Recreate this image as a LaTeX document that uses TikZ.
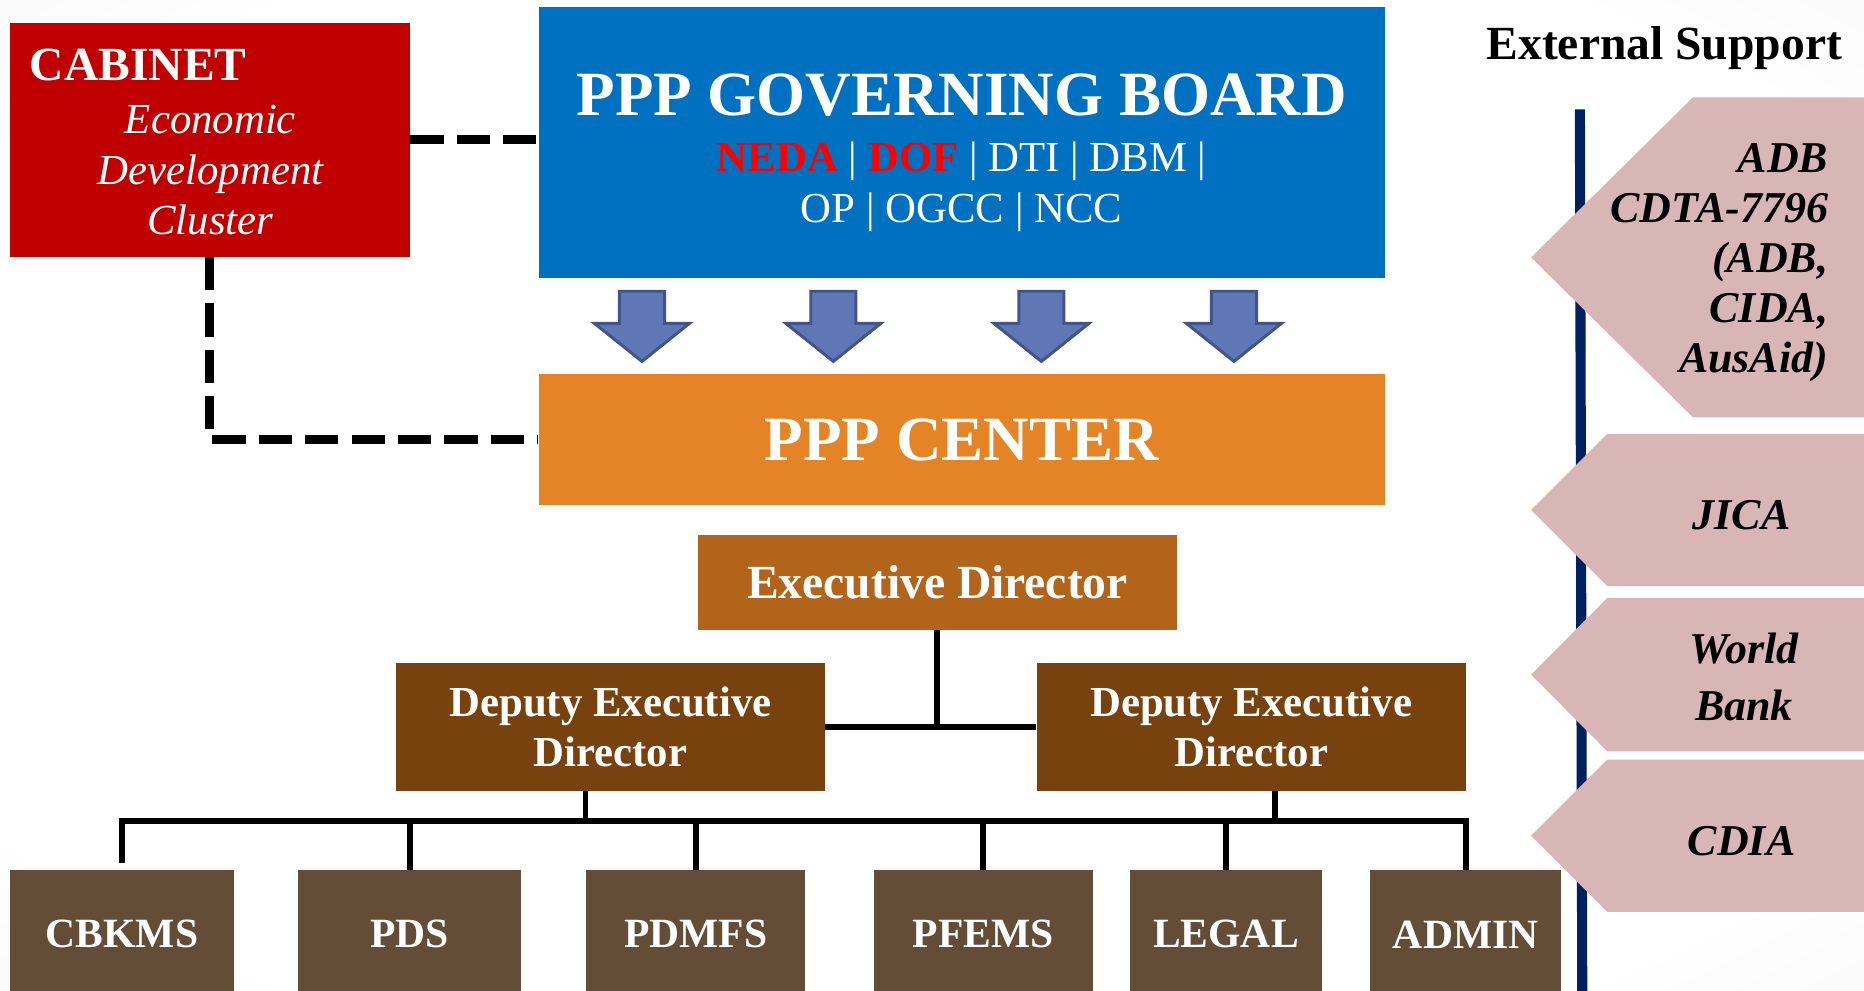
\documentclass[tikz,border=0pt]{standalone}
\usepackage{fontspec}
\setmainfont{Liberation Serif}
\usetikzlibrary{calc}
\definecolor{cabred}{HTML}{C00000}
\definecolor{boardblue}{HTML}{0070C0}
\definecolor{nedared}{HTML}{FF0000}
\definecolor{centerorange}{HTML}{E48426}
\definecolor{edbrown}{HTML}{B1641A}
\definecolor{depbrown}{HTML}{78420F}
\definecolor{unitbrown}{HTML}{634D36}
\definecolor{supportpink}{HTML}{D9B6B6}
\definecolor{navyline}{HTML}{002060}
\definecolor{arrowfill}{HTML}{6077B6}
\definecolor{arrowedge}{HTML}{41558A}
\definecolor{bgmid}{HTML}{EEEEEE}
\definecolor{bgedge}{HTML}{E0E0E0}
\pgfdeclareradialshading{bgshade}{\pgfpoint{0bp}{0bp}}{color(0bp)=(white); color(30bp)=(white); color(50bp)=(bgmid); color(71bp)=(bgedge)}
\newcommand{\fs}[1]{\fontsize{#1}{#1}\selectfont}
\begin{document}
\begin{tikzpicture}[x=1pt,y=-1pt,
  box/.style={rectangle, inner sep=0pt, text=white, font=\bfseries},
  unitbox/.style={box, fill=unitbrown, minimum height=108, font=\bfseries\fs{35}},
  depbox/.style={box, fill=depbrown, minimum width=361, minimum height=107, align=center, font=\bfseries\fontsize{36}{42}\selectfont},
  conn/.style={line width=5pt},
  dashline/.style={line width=7.5pt, dash pattern=on 28pt off 11pt},
  downarrow/.style={fill=arrowfill, draw=arrowedge, line width=2.5pt, line join=miter},
  supportshape/.style={fill=supportpink},
  supporttext/.style={inner sep=0pt, text=black, font=\bfseries\itshape\fs{37}},
  whitetext/.style={inner sep=0pt, text=white}
]
\useasboundingbox (0,0) rectangle (1568,833);
\clip (0,0) rectangle (1568,833);
% background
\shade[shading=bgshade] (0,0) rectangle (1568,833);

% external support line and shapes
\draw[line width=8.5pt, navyline] (1329,92) -- (1331,840);
\fill[supportshape] (1288,216.5) -- (1424,82) -- (1580,82) -- (1580,351) -- (1424,351) -- cycle;
\fill[supportshape] (1288,429) -- (1352,365) -- (1580,365) -- (1580,493) -- (1352,493) -- cycle;
\fill[supportshape] (1288,567.5) -- (1352,503) -- (1580,503) -- (1580,632) -- (1352,632) -- cycle;
\fill[supportshape] (1288,703) -- (1352,639) -- (1580,639) -- (1580,767) -- (1352,767) -- cycle;
\node[anchor=base, inner sep=0pt, font=\bfseries\fs{40}] (ext) at (1400,50) {External Support};
\node[supporttext, anchor=base east] (adb1) at (1538,145) {ADB};
\node[supporttext, anchor=base east] (adb2) at (1538,187) {CDTA-7796};
\node[supporttext, anchor=base east] (adb3) at (1538,229) {(ADB,};
\node[supporttext, anchor=base east] (adb4) at (1538,271) {CIDA,};
\node[supporttext, anchor=base east] (adb5) at (1538,313) {AusAid)};
\node[supporttext, anchor=base] (jica) at (1465,445) {JICA};
\node[supporttext, anchor=base] (wb1) at (1467,558) {World};
\node[supporttext, anchor=base] (wb2) at (1467,606) {Bank};
\node[supporttext, anchor=base] (cdia) at (1465,720) {CDIA};

% cabinet
\node[box, fill=cabred, minimum width=337, minimum height=197] (cab) at (176.5,117.5) {};
\node[whitetext, anchor=base west, font=\bfseries\fs{40}] (cabt) at (25,68) {CABINET};
\node[whitetext, anchor=base, font=\itshape\fs{36}] (cab1) at (177,112) {Economic};
\node[whitetext, anchor=base, font=\itshape\fs{36}] (cab2) at (177,155) {Development};
\node[whitetext, anchor=base, font=\itshape\fs{36}] (cab3) at (177,197) {Cluster};

% governing board
\node[box, fill=boardblue, minimum width=712, minimum height=228] (board) at (809,120) {};
\node[whitetext, anchor=base, font=\bfseries\fs{53}] (boardt) at (809,97) {PPP GOVERNING BOARD};
\node[whitetext, anchor=base, font=\fs{36}] (board1) at (809,144) {{\bfseries\color{nedared}NEDA} | {\bfseries\color{nedared}DOF} | DTI | DBM |};
\node[whitetext, anchor=base, font=\fs{36}] (board2) at (809,187) {OP | OGCC | NCC};

% arrows
\foreach \c in {540,701,876,1038}{
  \draw[downarrow] ({\c-19},245) -- ({\c+19},245) -- ({\c+19},272) -- ({\c+40},272) -- (\c,304) -- ({\c-40},272) -- ({\c-19},272) -- cycle;
}

% center
\node[box, fill=centerorange, minimum width=712, minimum height=110, font=\bfseries\fs{53}] (center) at (809,370) {PPP CENTER};

% dashed links
\draw[dashline] (cab.east) -- (cab.east -| board.west);
\draw[dashline] (cab.south) -- (cab.south |- center.west) -- (center.west);

% executive director
\node[box, fill=edbrown, minimum width=403, minimum height=80, font=\bfseries\fs{40}] (ed) at (788.5,490) {Executive Director};
\node[depbox] (dl) at (513.5,611.5) {Deputy Executive\\Director};
\node[depbox] (dr) at (1052.5,611.5) {Deputy Executive\\Director};

% units
\node[unitbox, minimum width=189] (cb) at (102.5,786) {CBKMS};
\node[unitbox, minimum width=188] (pds) at (344.5,786) {PDS};
\node[unitbox, minimum width=184.5] (pdmfs) at (585.25,786) {PDMFS};
\node[unitbox, minimum width=183.5] (pfems) at (827.25,786) {PFEMS};
\node[unitbox, minimum width=161.5] (legal) at (1031.25,786) {LEGAL};
\node[unitbox, minimum width=161] (admin) at (1233,786) {ADMIN};

% connectors
\draw[conn] (ed.south) -- (ed.south |- dl.east);
\draw[conn] (dl.east) -- (dr.west);
\coordinate (busL) at (102.5,691);
\coordinate (busR) at (1233,691);
\coordinate (dlb) at ($(dl.south)+(-21,0)$);
\coordinate (drb) at ($(dr.south)+(20,0)$);
\draw[conn] (dlb) -- (dlb |- busL);
\draw[conn] (drb) -- (drb |- busL);
\draw[conn] ($(busL)+(-2.5,0)$) -- ($(busR)+(2.5,0)$);
\draw[conn] (cb.north |- busL) -- ($(cb.north)+(0,-6)$);
\draw[conn] (pds.north |- busL) -- (pds.north);
\draw[conn] (pdmfs.north |- busL) -- (pdmfs.north);
\draw[conn] (pfems.north |- busL) -- (pfems.north);
\draw[conn] (legal.north |- busL) -- (legal.north);
\draw[conn] (admin.north |- busL) -- (admin.north);
\end{tikzpicture}
\end{document}
